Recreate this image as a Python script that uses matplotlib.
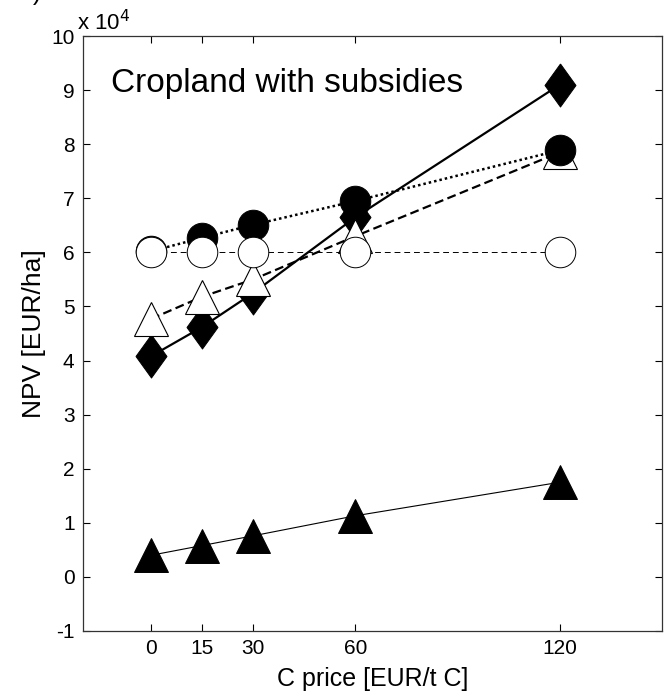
import numpy as np
import matplotlib
matplotlib.use("Agg")
import matplotlib.pyplot as plt

plt.rcParams['font.family'] = ['Liberation Sans', 'DejaVu Sans']
plt.rcParams['axes.unicode_minus'] = False

# C price [EUR/t C]
price = [0, 15, 30, 60, 120]
price_labels = ['0', '15', '30', '60', '120']

# NPV [EUR/ha]
npv_diamond = [40800, 46200, 52500, 66500, 91000]
npv_circle_filled = [60200, 62700, 65100, 69500, 78900]
npv_tri_open = [47700, 51800, 55000, 63000, 78500]
npv_circle_open = [60000, 60000, 60000, 60000, 60000]
npv_tri_filled = [4000, 5800, 7600, 11300, 17500]

scale = 1e4

fig = plt.figure(figsize=(6.69, 6.93), dpi=100)
ax = fig.add_axes([0.124, 0.0895, 0.8655, 0.8585])

x = np.array(price)

# drawing order matters for overlaps
ax.plot(x, np.array(npv_diamond) / scale, color='black', lw=1.6, ls='-',
        marker=[(0, 1), (0.72, 0), (0, -1), (-0.72, 0), (0, 1)],
        ms=31, mfc='black', mec='black', mew=0.7)
ax.plot(x, np.array(npv_tri_open) / scale, color='black', lw=1.6, ls=(0, (4, 2)),
        marker='^', ms=24, mfc='white', mec='black', mew=0.8)
ax.plot(x, np.array(npv_circle_filled) / scale, color='black', lw=1.8, ls=(0, (1, 1.2)),
        marker='o', ms=22, mfc='black', mec='black', mew=0.7)
ax.plot(x, np.array(npv_circle_open) / scale, color='black', lw=0.7, ls=(0, (6, 4)),
        marker='o', ms=22, mfc='white', mec='black', mew=0.7)
ax.plot(x, np.array(npv_tri_filled) / scale, color='black', lw=0.8, ls='-',
        marker='^', ms=24, mfc='black', mec='black', mew=0.7)

ax.set_xlim(-20, 150)
ax.set_ylim(-1, 10)
ax.set_xticks(price)
ax.set_xticklabels(price_labels)
ax.set_yticks(np.arange(-1, 11, 1))

ax.tick_params(direction='in', top=True, right=True, length=5, width=0.8,
               labelsize=15, pad=6)
for s in ax.spines.values():
    s.set_linewidth(0.9)
    s.set_color('#333333')

ax.set_xlabel('C price [EUR/t C]', fontsize=18, labelpad=6)
ax.set_ylabel('NPV [EUR/ha]', fontsize=19, labelpad=4)

ax.text(-11.8, 8.97, 'Cropland with subsidies', fontsize=24, va='baseline', ha='left')

# MATLAB style exponent label
ax.text(-21.8, 10.11, r'x 10$^{4}$', fontsize=16, va='baseline', ha='left')

# panel label, mostly cut off at the top edge
fig.text(42 / 669, 1.0, 'b)', fontsize=18, ha='right', va='baseline')

fig.savefig('out.png', dpi=100)
